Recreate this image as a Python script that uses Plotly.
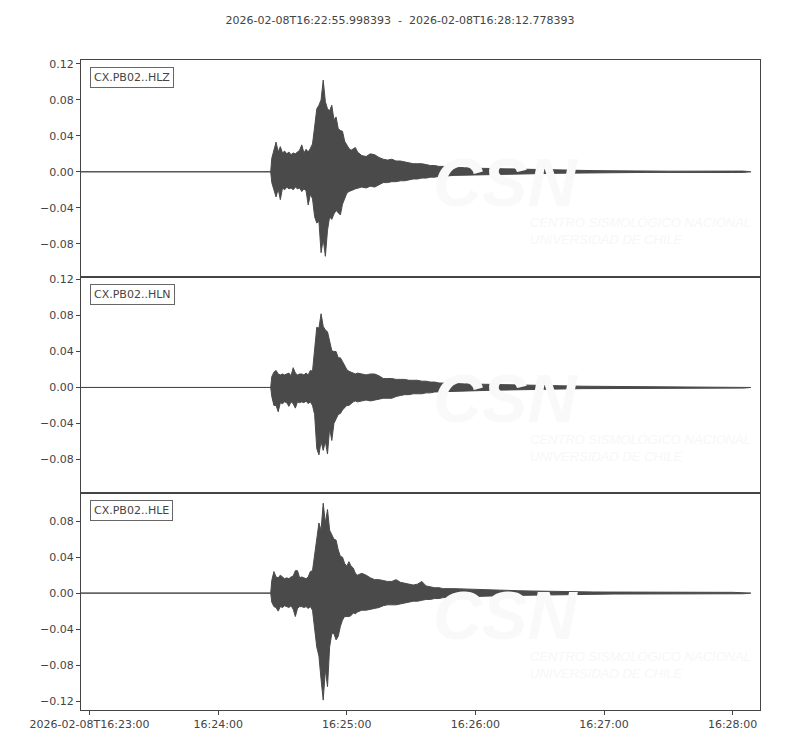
import pandas as pd
import plotly.graph_objects as go
from plotly.subplots import make_subplots

TITLE = "2026-02-08T16:22:55.998393  -  2026-02-08T16:28:12.778393"
T_START = "2026-02-08 16:22:55.998393"
T_END = "2026-02-08 16:28:12.778393"
T_BASE = "2026-02-08 16:23:00"

STATIONS = ["CX.PB02..HLZ", "CX.PB02..HLN", "CX.PB02..HLE"]

# seconds after 16:23:00 at which the trace envelope was read
T_SEC = ([-4.0016, 84.5]
         + list(range(85, 126))
         + list(range(127, 166, 2))
         + list(range(170, 306, 5))
         + [308.5])

Z_UP = [0, 0,
        0.015, 0.024, 0.033, 0.022, 0.028, 0.021, 0.023, 0.020, 0.022, 0.019,
        0.021, 0.020, 0.022, 0.024, 0.030, 0.021, 0.025, 0.022, 0.026, 0.031,
        0.050, 0.070, 0.074, 0.080, 0.102, 0.078, 0.070, 0.068, 0.074, 0.058,
        0.061, 0.048, 0.046, 0.045, 0.034, 0.030, 0.026, 0.024, 0.026, 0.027,
        0.022,
        0.018, 0.017, 0.020, 0.019, 0.016, 0.014, 0.013, 0.014, 0.012, 0.012,
        0.011, 0.010, 0.009, 0.009, 0.009, 0.008, 0.007, 0.007, 0.006, 0.006,
        0.0050, 0.0045, 0.0040, 0.0037, 0.0035, 0.0030, 0.0028, 0.0025, 0.0022, 0.0020,
        0.0018, 0.0016, 0.0014, 0.0013, 0.0012, 0.0010, 0.0009, 0.0008, 0.0008, 0.0008,
        0.0007, 0.0007, 0.0008, 0.0007, 0.0007, 0.0008, 0.0009, 0.0008,
        0]
Z_LO = [0, 0,
        -0.012, -0.020, -0.028, -0.019, -0.031, -0.018, -0.020, -0.017, -0.019, -0.018,
        -0.020, -0.017, -0.019, -0.018, -0.022, -0.019, -0.021, -0.037, -0.025, -0.030,
        -0.050, -0.057, -0.055, -0.090, -0.075, -0.094, -0.065, -0.050, -0.053, -0.047,
        -0.043, -0.045, -0.048, -0.036, -0.030, -0.024, -0.022, -0.021, -0.020, -0.019,
        -0.018,
        -0.017, -0.018, -0.016, -0.017, -0.015, -0.012, -0.012, -0.011, -0.011, -0.010,
        -0.010, -0.009, -0.008, -0.008, -0.007, -0.007, -0.006, -0.006, -0.005, -0.005,
        -0.0040, -0.0040, -0.0035, -0.0030, -0.0030, -0.0027, -0.0025, -0.0022, -0.0020, -0.0018,
        -0.0016, -0.0014, -0.0013, -0.0012, -0.0010, -0.0010, -0.0008, -0.0008, -0.0007, -0.0007,
        -0.0007, -0.0007, -0.0007, -0.0006, -0.0006, -0.0007, -0.0008, -0.0007,
        0]

N_UP = [0, 0,
        0.012, 0.017, 0.019, 0.015, 0.014, 0.015, 0.014, 0.015, 0.016, 0.013,
        0.022, 0.016, 0.014, 0.015, 0.015, 0.014, 0.016, 0.014, 0.019, 0.018,
        0.045, 0.067, 0.066, 0.082, 0.068, 0.064, 0.062, 0.050, 0.041, 0.040,
        0.040, 0.033, 0.033, 0.029, 0.025, 0.020, 0.018, 0.017, 0.016, 0.015,
        0.016,
        0.015, 0.014, 0.015, 0.015, 0.013, 0.010, 0.010, 0.010, 0.009, 0.009,
        0.009, 0.008, 0.008, 0.008, 0.007, 0.007, 0.006, 0.006, 0.005, 0.005,
        0.0045, 0.0040, 0.0037, 0.0035, 0.0030, 0.0028, 0.0025, 0.0022, 0.0020, 0.0018,
        0.0016, 0.0015, 0.0014, 0.0013, 0.0012, 0.0011, 0.0010, 0.0009, 0.0008, 0.0008,
        0.0008, 0.0007, 0.0008, 0.0007, 0.0007, 0.0008, 0.0008, 0.0007,
        0]
N_LO = [0, 0,
        -0.010, -0.020, -0.020, -0.027, -0.017, -0.018, -0.016, -0.017, -0.021, -0.016,
        -0.018, -0.023, -0.016, -0.017, -0.016, -0.017, -0.015, -0.018, -0.016, -0.020,
        -0.030, -0.068, -0.075, -0.060, -0.070, -0.060, -0.074, -0.045, -0.059, -0.040,
        -0.035, -0.030, -0.029, -0.025, -0.022, -0.020, -0.020, -0.018, -0.016, -0.015,
        -0.016,
        -0.015, -0.014, -0.015, -0.014, -0.013, -0.012, -0.012, -0.012, -0.010, -0.009,
        -0.008, -0.008, -0.007, -0.007, -0.007, -0.006, -0.006, -0.005, -0.005, -0.005,
        -0.0045, -0.0040, -0.0037, -0.0033, -0.0030, -0.0027, -0.0024, -0.0022, -0.0020, -0.0018,
        -0.0016, -0.0015, -0.0013, -0.0012, -0.0011, -0.0010, -0.0010, -0.0009, -0.0008, -0.0008,
        -0.0007, -0.0007, -0.0007, -0.0007, -0.0006, -0.0007, -0.0007, -0.0007,
        0]

E_UP = [0, 0,
        0.014, 0.024, 0.018, 0.017, 0.020, 0.018, 0.016, 0.017, 0.016, 0.018,
        0.019, 0.025, 0.025, 0.017, 0.018, 0.017, 0.016, 0.018, 0.024, 0.025,
        0.044, 0.065, 0.078, 0.070, 0.100, 0.078, 0.093, 0.070, 0.065, 0.060,
        0.059, 0.048, 0.041, 0.040, 0.033, 0.030, 0.035, 0.030, 0.028, 0.022,
        0.020,
        0.022, 0.020, 0.017, 0.015, 0.015, 0.014, 0.013, 0.013, 0.015, 0.012,
        0.011, 0.010, 0.009, 0.010, 0.013, 0.008, 0.007, 0.006, 0.006, 0.005,
        0.0050, 0.0045, 0.0040, 0.0037, 0.0034, 0.0030, 0.0027, 0.0024, 0.0021, 0.0019,
        0.0017, 0.0015, 0.0014, 0.0013, 0.0012, 0.0011, 0.0010, 0.0009, 0.0009, 0.0008,
        0.0008, 0.0008, 0.0008, 0.0007, 0.0008, 0.0009, 0.0009, 0.0008,
        0]
E_LO = [0, 0,
        -0.010, -0.015, -0.016, -0.020, -0.015, -0.016, -0.014, -0.015, -0.016, -0.014,
        -0.018, -0.026, -0.017, -0.015, -0.015, -0.016, -0.015, -0.017, -0.015, -0.019,
        -0.041, -0.060, -0.070, -0.096, -0.119, -0.085, -0.104, -0.060, -0.045, -0.045,
        -0.052, -0.048, -0.037, -0.030, -0.026, -0.026, -0.026, -0.025, -0.022, -0.023,
        -0.021,
        -0.019, -0.019, -0.018, -0.017, -0.016, -0.014, -0.013, -0.013, -0.013, -0.012,
        -0.011, -0.010, -0.009, -0.009, -0.008, -0.007, -0.007, -0.006, -0.006, -0.005,
        -0.0045, -0.0040, -0.0037, -0.0033, -0.0030, -0.0027, -0.0025, -0.0022, -0.0020, -0.0018,
        -0.0016, -0.0015, -0.0013, -0.0012, -0.0011, -0.0010, -0.0010, -0.0009, -0.0008, -0.0008,
        -0.0008, -0.0007, -0.0007, -0.0007, -0.0007, -0.0008, -0.0008, -0.0007,
        0]

Y_RANGES = [[-0.1167, 0.1244], [-0.1178, 0.1233], [-0.1300, 0.1110]]
Y_TICKS = [[0.12, 0.08, 0.04, 0.0, -0.04, -0.08],
           [0.12, 0.08, 0.04, 0.0, -0.04, -0.08],
           [0.08, 0.04, 0.0, -0.04, -0.08, -0.12]]
Y_TICKTEXT = [["0.12", "0.08", "0.04", "0.00", "\u22120.04", "\u22120.08"],
              ["0.12", "0.08", "0.04", "0.00", "\u22120.04", "\u22120.08"],
              ["0.08", "0.04", "0.00", "\u22120.04", "\u22120.08", "\u22120.12"]]
X_TICKS = ["2026-02-08 16:23:00", "2026-02-08 16:24:00", "2026-02-08 16:25:00",
           "2026-02-08 16:26:00", "2026-02-08 16:27:00", "2026-02-08 16:28:00"]
X_TICKTEXT = ["2026-02-08T16:23:00", "16:24:00", "16:25:00",
              "16:26:00", "16:27:00", "16:28:00"]

SERIES = [(Z_UP, Z_LO), (N_UP, N_LO), (E_UP, E_LO)]
for up, lo in SERIES:
    assert len(up) == len(T_SEC) and len(lo) == len(T_SEC)

TRACE_COLOR = "#4a4a4a"
TEXT_COLOR = "#444444"
FONT = "DejaVu Sans"

# the page places the figure 8px in from the top-left corner
FIG_W, FIG_H = 792, 742

base = pd.Timestamp(T_BASE)
times = [(base + pd.to_timedelta(s, unit="s")).strftime("%Y-%m-%d %H:%M:%S.%f") for s in T_SEC]

fig = make_subplots(rows=3, cols=1, shared_xaxes=True, vertical_spacing=0)

for i, (up, lo) in enumerate(SERIES):
    row = i + 1
    fig.add_trace(go.Scatter(
        x=times + times[::-1],
        y=list(up) + list(lo)[::-1],
        mode="lines", fill="toself", fillcolor=TRACE_COLOR,
        line=dict(color=TRACE_COLOR, width=1),
        hoverinfo="skip", showlegend=False,
    ), row=row, col=1)

    sfx = "" if row == 1 else str(row)
    # faint watermark
    fig.add_annotation(xref=f"x{sfx} domain", yref=f"y{sfx} domain", x=0.6245, y=0.438,
                       text="<b><i>CSN</i></b>", showarrow=False,
                       font=dict(family="Liberation Sans Narrow, Liberation Sans", size=68, color="#f9f9f9"),
                       xanchor="center", yanchor="middle")
    fig.add_annotation(xref=f"x{sfx} domain", yref=f"y{sfx} domain", x=0.658, y=0.21,
                       text="<i>CENTRO SISMOLÓGICO NACIONAL<br>UNIVERSIDAD DE CHILE</i>",
                       showarrow=False, align="left",
                       font=dict(family="Liberation Sans Narrow, Liberation Sans", size=13, color="#f7f7f7"),
                       xanchor="left", yanchor="middle")
    # station label
    fig.add_annotation(xref=f"x{sfx} domain", yref=f"y{sfx} domain", x=0.013, y=0.968,
                       text=STATIONS[i], showarrow=False,
                       font=dict(family=FONT, size=11, color=TEXT_COLOR),
                       xanchor="left", yanchor="top",
                       bordercolor="#666666", borderwidth=1, borderpad=3, bgcolor="white")

    fig.update_yaxes(range=Y_RANGES[i], tickvals=Y_TICKS[i], ticktext=Y_TICKTEXT[i],
                     showgrid=False, zeroline=False, showline=True, mirror=True,
                     linecolor="#444444", linewidth=1, ticks="outside", ticklen=4,
                     tickcolor="#444444", automargin=False, row=row, col=1)
    fig.update_xaxes(range=[T_START, T_END], type="date", tickvals=X_TICKS,
                     ticktext=X_TICKTEXT, showgrid=False, zeroline=False,
                     showline=True, mirror=True, linecolor="#444444", linewidth=1,
                     ticks="outside" if row == 3 else "", ticklen=4, tickcolor="#444444",
                     showticklabels=(row == 3), automargin=False, row=row, col=1)

fig.update_layout(
    width=FIG_W, height=FIG_H,
    margin=dict(l=73, r=40, t=52, b=40),
    paper_bgcolor="white", plot_bgcolor="white",
    font=dict(family=FONT, size=11, color=TEXT_COLOR),
    title=dict(text=TITLE.replace(" ", "\u00a0"), x=(400 - 8) / FIG_W, xref="container", xanchor="center",
               y=1 - 12 / FIG_H, yref="container", yanchor="middle",
               font=dict(family=FONT, size=11, color=TEXT_COLOR)),
    showlegend=False,
)

fig.write_html("out.html")
